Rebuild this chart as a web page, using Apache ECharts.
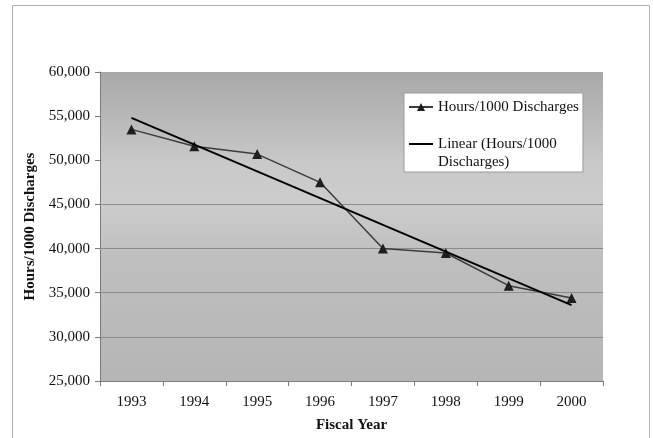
<!DOCTYPE html>
<html>
<head>
<meta charset="utf-8">
<script src="https://cdn.jsdelivr.net/npm/echarts@6/dist/echarts.min.js"></script>
<style>html,body{margin:0;padding:0;background:#fff;}#c{width:653px;height:438px;}</style>
</head>
<body>
<div id="c"></div>
<script>
var categories = ['1993', '1994', '1995', '1996', '1997', '1998', '1999', '2000'];
var hoursValues = [53500, 51600, 50700, 47500, 40000, 39500, 35800, 34400];
// Linear trend line at its two ends (1993 and 2000)
var trendValues = [54800, '-', '-', '-', '-', '-', '-', 33600];
var gridValues = [30000, 35000, 40000, 45000];
var seriesName = 'Hours/1000 Discharges';
var trendName = 'Linear (Hours/1000 Discharges)';

var FONT = '"Liberation Serif", "Times New Roman", serif';
var chart = echarts.init(document.getElementById('c'), null, {renderer: 'canvas'});
chart.setOption({
  animation: false,
  backgroundColor: '#ffffff',
  textStyle: {fontFamily: FONT},
  graphic: [{
    type: 'rect', left: 12, top: 5, z: -10,
    shape: {x: 0, y: 0, width: 637, height: 440},
    style: {fill: '#ffffff', stroke: '#b0b0b0', lineWidth: 1}
  }],
  grid: {
    left: 100, right: 50, top: 72, bottom: 57,
    show: true,
    borderWidth: 0,
    backgroundColor: {
      type: 'linear', x: 0, y: 0, x2: 0, y2: 1,
      colorStops: [
        {offset: 0, color: '#a8a8a8'},
        {offset: 0.3, color: '#c9c9c9'},
        {offset: 0.42, color: '#cccccc'},
        {offset: 0.6, color: '#bfbfbf'},
        {offset: 1, color: '#b5b5b5'}
      ]
    }
  },
  legend: {
    orient: 'vertical',
    left: 404, top: 93,
    backgroundColor: '#ffffff',
    borderColor: '#9a9a9a', borderWidth: 1,
    padding: [5, 4, 1, 4],
    itemGap: 1,
    itemWidth: 24, itemHeight: 10,
    data: [seriesName, {name: trendName, itemStyle: {opacity: 0}}],
    formatter: function (n) {
      return n === trendName ? '\nLinear (Hours/1000\nDischarges)' : n;
    },
    textStyle: {fontFamily: FONT, fontSize: 15, color: '#111', lineHeight: 18}
  },
  xAxis: {
    type: 'category',
    data: categories,
    boundaryGap: true,
    name: 'Fiscal Year',
    nameLocation: 'middle',
    nameGap: 37,
    nameTextStyle: {fontFamily: FONT, fontSize: 15, fontWeight: 'bold', color: '#111'},
    axisLine: {lineStyle: {color: '#7a7a7a', width: 1}},
    axisTick: {show: true, length: 5, lineStyle: {color: '#7a7a7a'}},
    axisLabel: {fontFamily: FONT, fontSize: 15, color: '#111', margin: 14},
    splitLine: {show: false}
  },
  yAxis: {
    type: 'value',
    min: 25000, max: 60000, interval: 5000,
    name: 'Hours/1000 Discharges',
    nameLocation: 'middle',
    nameGap: 61,
    nameRotate: 90,
    nameTextStyle: {fontFamily: FONT, fontSize: 15, fontWeight: 'bold', color: '#111'},
    axisLine: {show: true, lineStyle: {color: '#7a7a7a', width: 1}},
    axisTick: {show: true, length: 5, lineStyle: {color: '#7a7a7a'}},
    axisLabel: {
      fontFamily: FONT, fontSize: 15, color: '#111', margin: 10,
      formatter: function (v) { return v.toLocaleString('en-US'); }
    },
    splitLine: {show: false}
  },
  series: [{
    name: seriesName,
    type: 'line',
    data: hoursValues,
    symbol: 'triangle',
    symbolSize: 10,
    itemStyle: {color: '#1e1e1e'},
    lineStyle: {color: '#3c3c3c', width: 1.5},
    z: 3,
    markLine: {
      silent: true,
      symbol: 'none',
      label: {show: false},
      lineStyle: {color: '#8c8c8c', width: 1, type: 'solid'},
      data: gridValues.map(function (v) { return {yAxis: v}; }),
      z: 1
    }
  }, {
    name: trendName,
    type: 'line',
    data: trendValues,
    connectNulls: true,
    symbol: 'none',
    showSymbol: false,
    itemStyle: {color: '#000'},
    lineStyle: {color: '#000', width: 2},
    z: 4
  }]
});
</script>
</body>
</html>
